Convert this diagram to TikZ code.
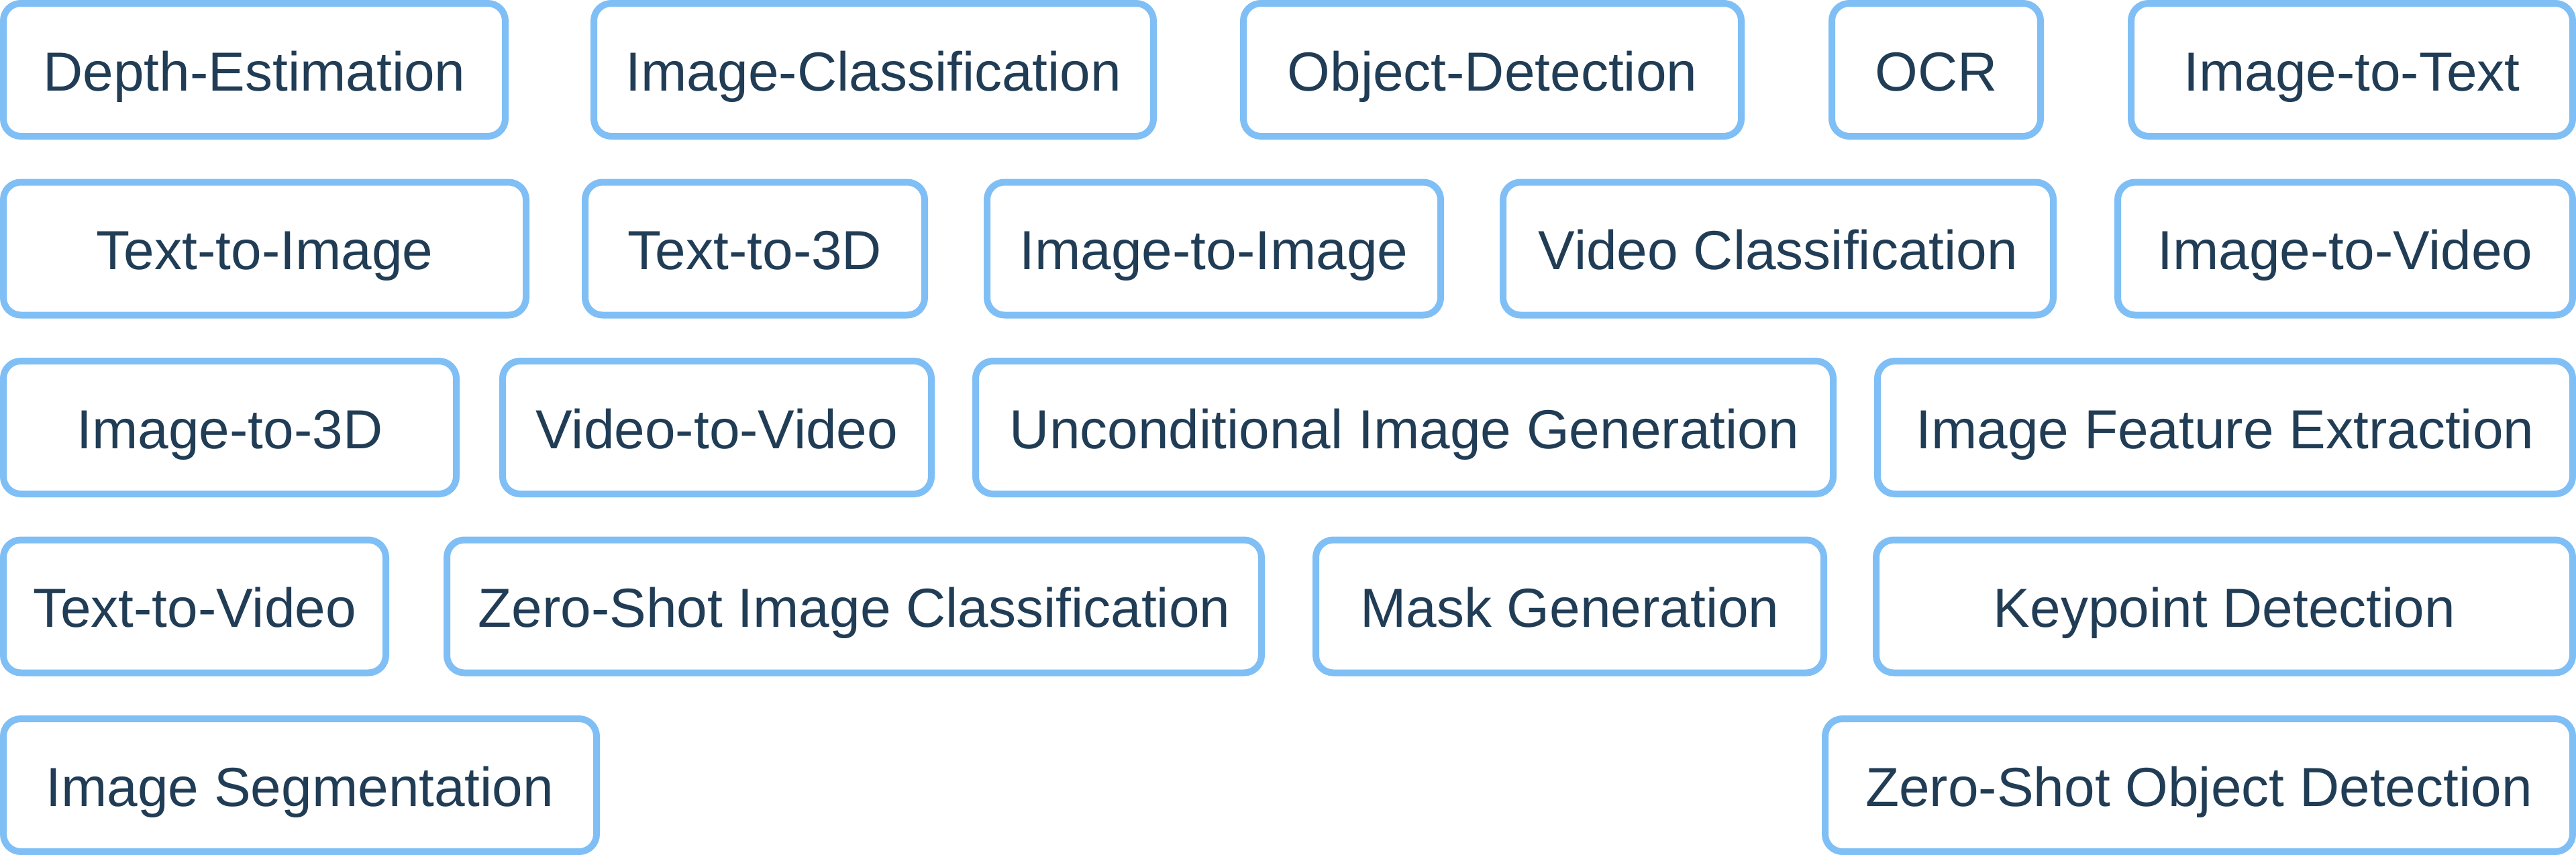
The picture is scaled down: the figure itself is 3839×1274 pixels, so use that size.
\documentclass[tikz,border=0pt]{standalone}
\usepackage{fontspec}
\setmainfont{Liberation Sans}
\definecolor{boxblue}{RGB}{127,191,245}
\definecolor{textnavy}{RGB}{33,61,86}
\begin{document}
\begin{tikzpicture}[x=1pt,y=-1pt,
  task/.style={draw=boxblue, line width=10pt, rounded corners=26pt, fill=white,
    minimum height=198pt, inner sep=0pt, text=textnavy,
    text height=80pt, text depth=18pt,
    font=\fontsize{82}{98}\selectfont, anchor=center}]
\useasboundingbox[fill=white] (0,0) rectangle (3839,1274);
% Row 1
\node[task, minimum width=748pt] (depth) at (379,104) {Depth-Estimation};
\node[task, minimum width=834pt] (imgcls) at (1302,104) {Image-Classification};
\node[task, minimum width=742pt] (objdet) at (2224,104) {Object-Detection};
\node[task, minimum width=311pt] (ocr) at (2885.5,104) {OCR};
\node[task, minimum width=658pt] (imgtxt) at (3505,104) {Image-to-Text};
% Row 2
\node[task, minimum width=779pt] (txtimg) at (394.5,370.5) {Text-to-Image};
\node[task, minimum width=506pt] (txt3d) at (1125,370.5) {Text-to-3D};
\node[task, minimum width=676pt] (imgimg) at (1809,370.5) {Image-to-Image};
\node[task, minimum width=820pt] (vidcls) at (2650,370.5) {Video Classification};
\node[task, minimum width=678pt] (imgvid) at (3495,370.5) {Image-to-Video};
% Row 3
\node[task, minimum width=675pt] (img3d) at (342.5,637) {Image-to-3D};
\node[task, minimum width=639pt] (vidvid) at (1068.5,637) {Video-to-Video};
\node[task, minimum width=1278pt] (uncond) at (2093,637) {Unconditional Image Generation};
\node[task, minimum width=1036pt] (imgfeat) at (3316,637) {Image Feature Extraction};
% Row 4
\node[task, minimum width=570pt] (txtvid) at (290,903.5) {Text-to-Video};
\node[task, minimum width=1214pt] (zsic) at (1273,903.5) {Zero-Shot Image Classification};
\node[task, minimum width=757pt] (mask) at (2339.5,903.5) {Mask Generation};
\node[task, minimum width=1038pt] (keypt) at (3315,903.5) {Keypoint Detection};
% Row 5
\node[task, minimum width=884pt] (imgseg) at (447,1170) {Image Segmentation};
\node[task, minimum width=1114pt] (zsod) at (3277,1170) {Zero-Shot Object Detection};
\end{tikzpicture}
\end{document}
